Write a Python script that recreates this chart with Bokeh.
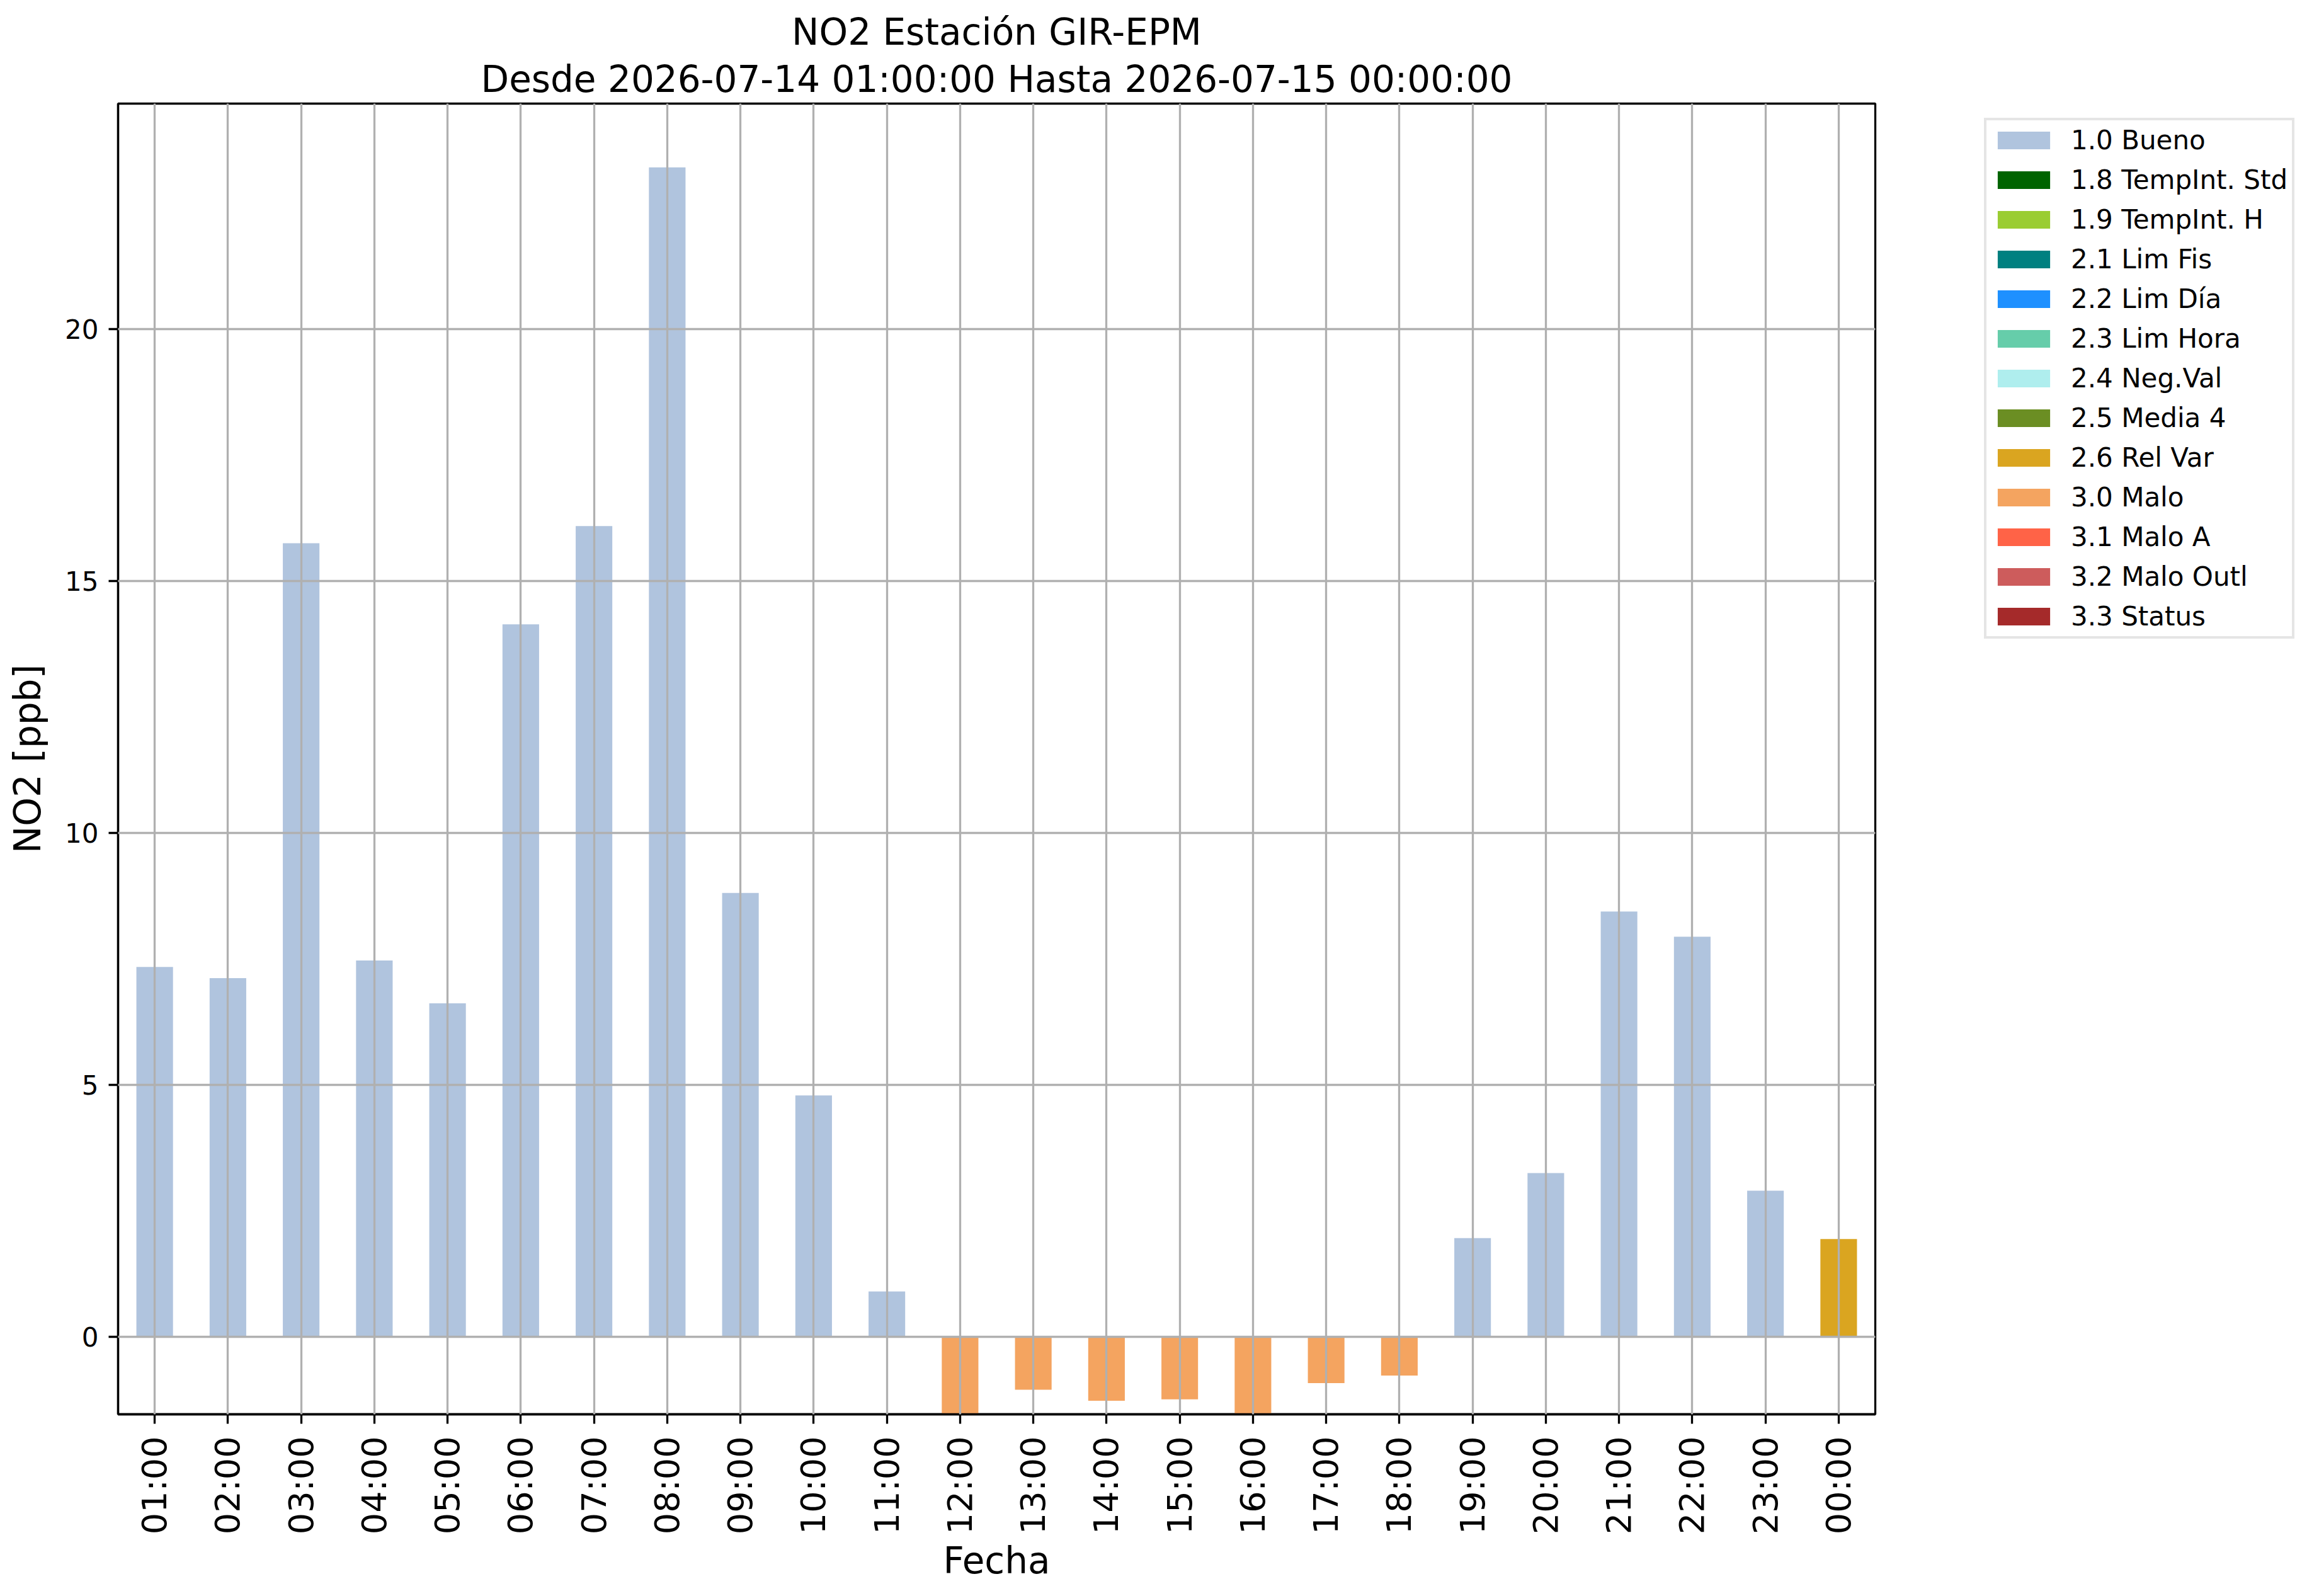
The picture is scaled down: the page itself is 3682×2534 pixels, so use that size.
import math
from bokeh.plotting import figure
from bokeh.models import ColumnDataSource, Range1d, FixedTicker, Legend, LegendItem, FactorRange, Title
from bokeh.embed import file_html
from bokeh.resources import INLINE

# ---- data ----
hours = ["01:00", "02:00", "03:00", "04:00", "05:00", "06:00", "07:00", "08:00",
         "09:00", "10:00", "11:00", "12:00", "13:00", "14:00", "15:00", "16:00",
         "17:00", "18:00", "19:00", "20:00", "21:00", "22:00", "23:00", "00:00"]
no2_ppb = [7.34, 7.12, 15.75, 7.47, 6.62, 14.14, 16.09, 23.21,
           8.81, 4.79, 0.90, -1.60, -1.05, -1.27, -1.24, -1.60,
           -0.92, -0.77, 1.96, 3.25, 8.44, 7.94, 2.90, 1.94]
flags = ["1.0"] * 11 + ["3.0"] * 7 + ["1.0"] * 5 + ["2.6"]

legend_codes = ["1.0", "1.8", "1.9", "2.1", "2.2", "2.3", "2.4", "2.5", "2.6",
                "3.0", "3.1", "3.2", "3.3"]
legend_names = ["1.0 Bueno", "1.8 TempInt. Std", "1.9 TempInt. H", "2.1 Lim Fis",
                "2.2 Lim Día", "2.3 Lim Hora", "2.4 Neg.Val", "2.5 Media 4",
                "2.6 Rel Var", "3.0 Malo", "3.1 Malo A", "3.2 Malo Outl", "3.3 Status"]
legend_colors = ["#B0C4DE", "#006400", "#9ACD32", "#008080", "#1E90FF", "#66CDAA",
                 "#AFEEEE", "#6B8E23", "#DAA520", "#F4A460", "#FF6347", "#CD5C5C",
                 "#A52A2A"]

title_line1 = "NO2 Estación GIR-EPM"
title_line2 = "Desde 2026-07-14 01:00:00 Hasta 2026-07-15 00:00:00"

FONT = "DejaVu Sans"
LW = 3.3

p = figure(x_range=FactorRange(*hours, range_padding=0),
           y_range=Range1d(-1.5375, 24.475),
           frame_width=2790, frame_height=2081,
           min_border_left=187, min_border_right=689,
           min_border_top=164, min_border_bottom=273,
           output_backend="svg", toolbar_location=None)
p.title.visible = False

t2 = Title(text=title_line2, align="center", text_font=FONT, text_font_size="58px",
           text_font_style="normal", text_color="black", standoff=10,
           text_line_height=0.8)
t1 = Title(text=title_line1, align="center", text_font=FONT, text_font_size="58px",
           text_font_style="normal", text_color="black", standoff=0,
           text_line_height=1.1)
p.add_layout(t2, "above")
p.add_layout(t1, "above")

items = []
for code, name, color in zip(legend_codes, legend_names, legend_colors):
    # every series spans all hours; hours of other quality codes are NaN (not drawn)
    ys = [v if f == code else float("nan") for v, f in zip(no2_ppb, flags)]
    src = ColumnDataSource(data=dict(x=hours, top=ys))
    r = p.vbar(x="x", top="top", bottom=0, width=0.5, source=src,
               fill_color=color, line_color=None)
    items.append(LegendItem(label=name, renderers=[r]))

legend = Legend(items=items, location=(173, 1231))
legend.label_text_font = FONT
legend.label_text_font_size = "42px"
legend.label_text_color = "black"
legend.glyph_width = 104
legend.glyph_height = 35
legend.label_height = 42
legend.label_standoff = 23
legend.spacing = 14
legend.padding = 7
legend.margin = 0
legend.border_line_color = "#cccccc"
legend.border_line_width = 4
legend.background_fill_color = "white"
legend.background_fill_alpha = 0.8
p.add_layout(legend, "right")

# axes
p.yaxis.ticker = FixedTicker(ticks=[0, 5, 10, 15, 20])
p.yaxis.minor_tick_line_color = None
for ax in (p.xaxis[0], p.yaxis[0]):
    ax.axis_line_color = "black"
    ax.axis_line_width = LW
    ax.major_tick_line_color = "black"
    ax.major_tick_line_width = LW
    ax.major_tick_out = 15
    ax.major_tick_in = 0
    ax.major_label_text_color = "black"
    ax.major_label_text_font = FONT
    ax.axis_label_text_font = FONT
    ax.axis_label_text_font_size = "58px"
    ax.axis_label_text_font_style = "normal"
    ax.axis_label_text_color = "black"

p.xaxis.major_label_text_font_size = "54px"
p.xaxis.major_label_orientation = math.pi / 2
p.xaxis.major_label_standoff = 20
p.xaxis.axis_label = "Fecha"
p.xaxis.axis_label_standoff = 5

p.yaxis.major_label_text_font_size = "42px"
p.yaxis.major_label_standoff = 16
p.yaxis.axis_label = "NO2 [ppb]"
p.yaxis.axis_label_standoff = 22

p.outline_line_color = "black"
p.outline_line_width = LW
p.outline_line_alpha = 1.0

for g in (p.xgrid[0], p.ygrid[0]):
    g.grid_line_color = "#b0b0b0"
    g.grid_line_width = LW
    g.level = "overlay"

p.background_fill_color = "white"
p.border_fill_color = "white"

open("out.html", "w").write(file_html(p, INLINE))
